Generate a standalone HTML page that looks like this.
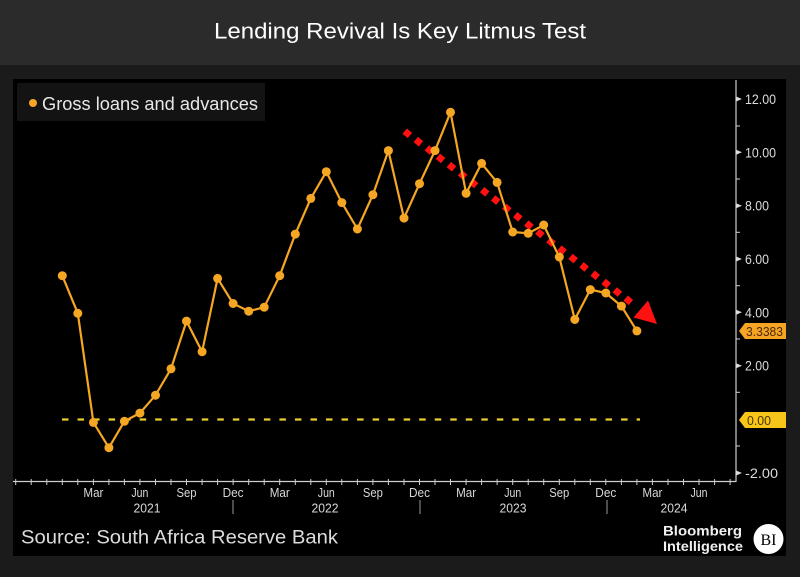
<!DOCTYPE html>
<html><head><meta charset="utf-8"><style>
html,body{margin:0;padding:0;background:#1b1b1b;}
svg{display:block;}
text{font-family:"Liberation Sans",sans-serif;}
</style></head><body>
<svg width="800" height="577" viewBox="0 0 800 577" xmlns="http://www.w3.org/2000/svg">
<rect x="0" y="0" width="800" height="577" fill="#1b1b1b"/>
<rect x="0" y="0" width="800" height="65" fill="#2b2b2b"/>
<text x="400" y="38.5" font-size="22" fill="#ffffff" text-anchor="middle" textLength="372" lengthAdjust="spacingAndGlyphs">Lending Revival Is Key Litmus Test</text>
<rect x="13" y="79" width="773" height="477" fill="#000"/>

<!-- legend -->
<rect x="17" y="83" width="248" height="38" fill="#131313"/>
<circle cx="33" cy="103" r="4" fill="#f5a623"/>
<text x="42" y="110" font-size="18" fill="#e8e8e8" textLength="216" lengthAdjust="spacingAndGlyphs">Gross loans and advances</text>

<!-- right axis -->
<line x1="736" y1="80" x2="736" y2="482" stroke="#cfcfcf" stroke-width="1.2"/>
<g fill="#dcdcdc">
<polygon points="736,96.5 742,99 736,101.5"/>
<polygon points="736,149.8 742,152.3 736,154.8"/>
<polygon points="736,203.2 742,205.7 736,208.2"/>
<polygon points="736,256.5 742,259 736,261.5"/>
<polygon points="736,309.8 742,312.3 736,314.8"/>
<polygon points="736,363.2 742,365.7 736,368.2"/>
<polygon points="736,470.5 742,473 736,475.5"/>
</g>
<g stroke="#cfcfcf" stroke-width="1">
<line x1="736" y1="126" x2="740" y2="126"/>
<line x1="736" y1="179" x2="740" y2="179"/>
<line x1="736" y1="232.3" x2="740" y2="232.3"/>
<line x1="736" y1="285.7" x2="740" y2="285.7"/>
<line x1="736" y1="339" x2="740" y2="339"/>
<line x1="736" y1="392.3" x2="740" y2="392.3"/>
<line x1="736" y1="446" x2="740" y2="446"/>
</g>
<g font-size="14" fill="#dcdcdc">
<text x="745" y="104" textLength="31" lengthAdjust="spacingAndGlyphs">12.00</text>
<text x="745" y="157.3" textLength="31" lengthAdjust="spacingAndGlyphs">10.00</text>
<text x="745" y="210.7" textLength="24" lengthAdjust="spacingAndGlyphs">8.00</text>
<text x="745" y="264" textLength="24" lengthAdjust="spacingAndGlyphs">6.00</text>
<text x="745" y="317.3" textLength="24" lengthAdjust="spacingAndGlyphs">4.00</text>
<text x="745" y="370.7" textLength="24" lengthAdjust="spacingAndGlyphs">2.00</text>
<text x="745" y="478" textLength="33" lengthAdjust="spacingAndGlyphs">-2.00</text>
</g>
<!-- tags -->
<polygon points="739,331 745,323 786,323 786,339 745,339" fill="#f5a424"/>
<text x="746" y="336" font-size="13" fill="#4a2800" textLength="37" lengthAdjust="spacingAndGlyphs">3.3383</text>
<polygon points="739,420 745,412 786,412 786,428 745,428" fill="#f8c619"/>
<text x="747" y="425" font-size="13" fill="#4a3500" textLength="24" lengthAdjust="spacingAndGlyphs">0.00</text>

<!-- x axis -->
<line x1="13" y1="481.5" x2="736" y2="481.5" stroke="#cfcfcf" stroke-width="1.2"/>
<g stroke="#cfcfcf" stroke-width="1">
<line x1="15.7" y1="479" x2="15.7" y2="485"/><line x1="31.2" y1="479" x2="31.2" y2="485"/><line x1="46.8" y1="479" x2="46.8" y2="485"/><line x1="62.3" y1="479" x2="62.3" y2="485"/><line x1="77.8" y1="479" x2="77.8" y2="485"/><line x1="93.4" y1="479" x2="93.4" y2="485"/><line x1="108.9" y1="479" x2="108.9" y2="485"/><line x1="124.4" y1="479" x2="124.4" y2="485"/><line x1="139.9" y1="479" x2="139.9" y2="485"/><line x1="155.5" y1="479" x2="155.5" y2="485"/><line x1="171" y1="479" x2="171" y2="485"/><line x1="186.5" y1="479" x2="186.5" y2="485"/><line x1="202.1" y1="479" x2="202.1" y2="485"/><line x1="217.6" y1="479" x2="217.6" y2="485"/><line x1="233.1" y1="479" x2="233.1" y2="485"/><line x1="248.7" y1="479" x2="248.7" y2="485"/><line x1="264.2" y1="479" x2="264.2" y2="485"/><line x1="279.7" y1="479" x2="279.7" y2="485"/><line x1="295.3" y1="479" x2="295.3" y2="485"/><line x1="310.8" y1="479" x2="310.8" y2="485"/><line x1="326.3" y1="479" x2="326.3" y2="485"/><line x1="341.8" y1="479" x2="341.8" y2="485"/><line x1="357.4" y1="479" x2="357.4" y2="485"/><line x1="372.9" y1="479" x2="372.9" y2="485"/><line x1="388.4" y1="479" x2="388.4" y2="485"/><line x1="404" y1="479" x2="404" y2="485"/><line x1="419.5" y1="479" x2="419.5" y2="485"/><line x1="435" y1="479" x2="435" y2="485"/><line x1="450.5" y1="479" x2="450.5" y2="485"/><line x1="466.1" y1="479" x2="466.1" y2="485"/><line x1="481.6" y1="479" x2="481.6" y2="485"/><line x1="497.1" y1="479" x2="497.1" y2="485"/><line x1="512.7" y1="479" x2="512.7" y2="485"/><line x1="528.2" y1="479" x2="528.2" y2="485"/><line x1="543.7" y1="479" x2="543.7" y2="485"/><line x1="559.3" y1="479" x2="559.3" y2="485"/><line x1="574.8" y1="479" x2="574.8" y2="485"/><line x1="590.3" y1="479" x2="590.3" y2="485"/><line x1="605.8" y1="479" x2="605.8" y2="485"/><line x1="621.4" y1="479" x2="621.4" y2="485"/><line x1="636.9" y1="479" x2="636.9" y2="485"/><line x1="652.4" y1="479" x2="652.4" y2="485"/><line x1="668" y1="479" x2="668" y2="485"/><line x1="683.5" y1="479" x2="683.5" y2="485"/><line x1="699" y1="479" x2="699" y2="485"/><line x1="714.6" y1="479" x2="714.6" y2="485"/><line x1="730.1" y1="479" x2="730.1" y2="485"/>
</g>
<g stroke="#9a9a9a" stroke-width="1">
<line x1="233" y1="500" x2="233" y2="514"/>
<line x1="420" y1="500" x2="420" y2="514"/>
<line x1="607" y1="500" x2="607" y2="514"/>
</g>
<g font-size="13" fill="#d8d8d8" text-anchor="middle">
<text x="93.4" y="497" textLength="20" lengthAdjust="spacingAndGlyphs">Mar</text>
<text x="139.9" y="497" textLength="17" lengthAdjust="spacingAndGlyphs">Jun</text>
<text x="186.5" y="497" textLength="20" lengthAdjust="spacingAndGlyphs">Sep</text>
<text x="233.1" y="497" textLength="21" lengthAdjust="spacingAndGlyphs">Dec</text>
<text x="279.7" y="497" textLength="20" lengthAdjust="spacingAndGlyphs">Mar</text>
<text x="326.3" y="497" textLength="17" lengthAdjust="spacingAndGlyphs">Jun</text>
<text x="372.9" y="497" textLength="20" lengthAdjust="spacingAndGlyphs">Sep</text>
<text x="419.5" y="497" textLength="21" lengthAdjust="spacingAndGlyphs">Dec</text>
<text x="466.1" y="497" textLength="20" lengthAdjust="spacingAndGlyphs">Mar</text>
<text x="512.7" y="497" textLength="17" lengthAdjust="spacingAndGlyphs">Jun</text>
<text x="559.3" y="497" textLength="20" lengthAdjust="spacingAndGlyphs">Sep</text>
<text x="605.8" y="497" textLength="21" lengthAdjust="spacingAndGlyphs">Dec</text>
<text x="652.4" y="497" textLength="20" lengthAdjust="spacingAndGlyphs">Mar</text>
<text x="699" y="497" textLength="17" lengthAdjust="spacingAndGlyphs">Jun</text>
<text x="147" y="512.5" textLength="27" lengthAdjust="spacingAndGlyphs">2021</text>
<text x="325" y="512.5" textLength="27" lengthAdjust="spacingAndGlyphs">2022</text>
<text x="513" y="512.5" textLength="27" lengthAdjust="spacingAndGlyphs">2023</text>
<text x="674" y="512.5" textLength="27" lengthAdjust="spacingAndGlyphs">2024</text>
</g>

<!-- zero dashed line -->
<line x1="62" y1="419.5" x2="640" y2="419.5" stroke="#e8cf2e" stroke-width="2.2" stroke-dasharray="6.5 9.03"/>

<!-- red trend diamonds -->
<g fill="#ff1111">
<rect x="-3.4" y="-3.4" width="6.8" height="6.8" transform="translate(407.3,133.3) rotate(40)"/>
<rect x="-3.4" y="-3.4" width="6.8" height="6.8" transform="translate(418.4,141.7) rotate(40)"/>
<rect x="-3.4" y="-3.4" width="6.8" height="6.8" transform="translate(429.4,150) rotate(40)"/>
<rect x="-3.4" y="-3.4" width="6.8" height="6.8" transform="translate(440.5,158.4) rotate(40)"/>
<rect x="-3.4" y="-3.4" width="6.8" height="6.8" transform="translate(451.5,166.7) rotate(40)"/>
<rect x="-3.4" y="-3.4" width="6.8" height="6.8" transform="translate(462.6,175.1) rotate(40)"/>
<rect x="-3.4" y="-3.4" width="6.8" height="6.8" transform="translate(473.6,183.4) rotate(40)"/>
<rect x="-3.4" y="-3.4" width="6.8" height="6.8" transform="translate(484.7,191.8) rotate(40)"/>
<rect x="-3.4" y="-3.4" width="6.8" height="6.8" transform="translate(495.7,200.1) rotate(40)"/>
<rect x="-3.4" y="-3.4" width="6.8" height="6.8" transform="translate(506.8,208.5) rotate(40)"/>
<rect x="-3.4" y="-3.4" width="6.8" height="6.8" transform="translate(517.8,216.8) rotate(40)"/>
<rect x="-3.4" y="-3.4" width="6.8" height="6.8" transform="translate(528.9,225.2) rotate(40)"/>
<rect x="-3.4" y="-3.4" width="6.8" height="6.8" transform="translate(539.9,233.5) rotate(40)"/>
<rect x="-3.4" y="-3.4" width="6.8" height="6.8" transform="translate(551,241.9) rotate(40)"/>
<rect x="-3.4" y="-3.4" width="6.8" height="6.8" transform="translate(562,250.2) rotate(40)"/>
<rect x="-3.4" y="-3.4" width="6.8" height="6.8" transform="translate(573.1,258.6) rotate(40)"/>
<rect x="-3.4" y="-3.4" width="6.8" height="6.8" transform="translate(584.1,266.9) rotate(40)"/>
<rect x="-3.4" y="-3.4" width="6.8" height="6.8" transform="translate(595.2,275.3) rotate(40)"/>
<rect x="-3.4" y="-3.4" width="6.8" height="6.8" transform="translate(606.2,283.6) rotate(40)"/>
<rect x="-3.4" y="-3.4" width="6.8" height="6.8" transform="translate(617.3,292) rotate(40)"/>
<rect x="-3.4" y="-3.4" width="6.8" height="6.8" transform="translate(628.3,300.3) rotate(40)"/>
<polygon points="633.5,317.5 648,300.5 657,324"/>
</g>

<!-- series -->
<polyline fill="none" stroke="#f5a623" stroke-width="2.2" stroke-linejoin="round" points="62.3,275.7 77.8,313.3 93.4,422.4 108.9,447.7 124.4,421.3 139.9,413.1 155.5,395.2 171,368.8 186.5,321.1 202.1,351.7 217.6,278.4 233.1,303.5 248.7,311.2 264.2,307.2 279.7,275.7 295.3,234.1 310.8,198.4 326.3,171.7 341.8,202.6 357.4,229 372.9,194.7 388.4,150.6 404,218.1 419.5,183.7 435,150.6 450.5,112.3 466.1,193.3 481.6,163.4 497.1,182.4 512.7,232 528.2,233.3 543.7,225 559.3,257 574.8,319.5 590.3,289.6 605.8,293 621.4,306.1 636.9,330.9"/>
<g fill="#f5a623">
<circle cx="62.3" cy="275.7" r="4.5"/><circle cx="77.8" cy="313.3" r="4.5"/><circle cx="93.4" cy="422.4" r="4.5"/><circle cx="108.9" cy="447.7" r="4.5"/><circle cx="124.4" cy="421.3" r="4.5"/><circle cx="139.9" cy="413.1" r="4.5"/><circle cx="155.5" cy="395.2" r="4.5"/><circle cx="171" cy="368.8" r="4.5"/><circle cx="186.5" cy="321.1" r="4.5"/><circle cx="202.1" cy="351.7" r="4.5"/><circle cx="217.6" cy="278.4" r="4.5"/><circle cx="233.1" cy="303.5" r="4.5"/><circle cx="248.7" cy="311.2" r="4.5"/><circle cx="264.2" cy="307.2" r="4.5"/><circle cx="279.7" cy="275.7" r="4.5"/><circle cx="295.3" cy="234.1" r="4.5"/><circle cx="310.8" cy="198.4" r="4.5"/><circle cx="326.3" cy="171.7" r="4.5"/><circle cx="341.8" cy="202.6" r="4.5"/><circle cx="357.4" cy="229" r="4.5"/><circle cx="372.9" cy="194.7" r="4.5"/><circle cx="388.4" cy="150.6" r="4.5"/><circle cx="404" cy="218.1" r="4.5"/><circle cx="419.5" cy="183.7" r="4.5"/><circle cx="435" cy="150.6" r="4.5"/><circle cx="450.5" cy="112.3" r="4.5"/><circle cx="466.1" cy="193.3" r="4.5"/><circle cx="481.6" cy="163.4" r="4.5"/><circle cx="497.1" cy="182.4" r="4.5"/><circle cx="512.7" cy="232" r="4.5"/><circle cx="528.2" cy="233.3" r="4.5"/><circle cx="543.7" cy="225" r="4.5"/><circle cx="559.3" cy="257" r="4.5"/><circle cx="574.8" cy="319.5" r="4.5"/><circle cx="590.3" cy="289.6" r="4.5"/><circle cx="605.8" cy="293" r="4.5"/><circle cx="621.4" cy="306.1" r="4.5"/><circle cx="636.9" cy="330.9" r="4.5"/>
</g>

<!-- footer -->
<text x="21" y="543.5" font-size="19" fill="#dcdcdc" textLength="317" lengthAdjust="spacingAndGlyphs">Source: South Africa Reserve Bank</text>
<text x="663" y="535.5" font-size="14" font-weight="bold" fill="#f0f0f0" textLength="79" lengthAdjust="spacingAndGlyphs">Bloomberg</text>
<text x="663" y="551" font-size="14" font-weight="bold" fill="#f0f0f0" textLength="80" lengthAdjust="spacingAndGlyphs">Intelligence</text>
<circle cx="768.5" cy="539" r="15" fill="#ffffff"/>
<text x="768.5" y="545" font-size="16" fill="#000" text-anchor="middle" style="font-family:'Liberation Serif',serif">BI</text>
</svg>
</body></html>
